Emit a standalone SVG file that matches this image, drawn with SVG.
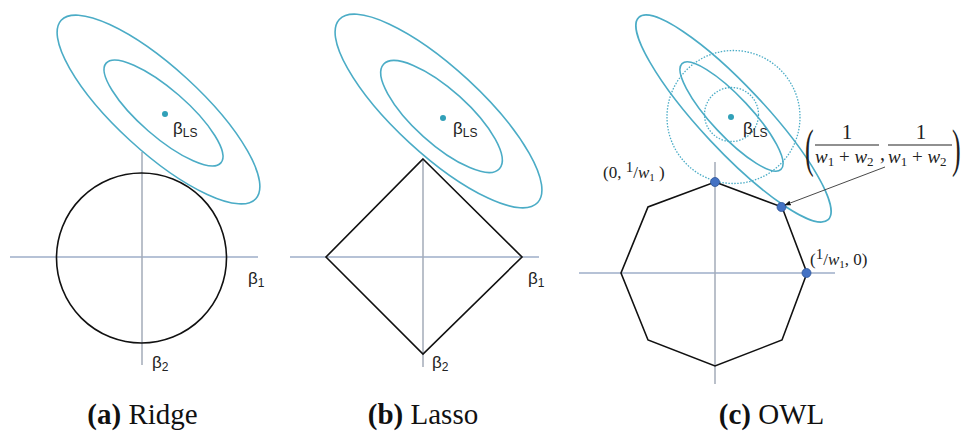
<svg xmlns="http://www.w3.org/2000/svg" width="961" height="432" viewBox="0 0 961 432">
<style>
.ell{fill:none;stroke:#4bacc6;stroke-width:1.6}
.dot{fill:none;stroke:#4bacc6;stroke-width:1.3;stroke-dasharray:1.5 1.5}
.shape{fill:none;stroke:#111;stroke-width:1.6}
.hax{stroke:#6f86ad;stroke-width:1.2}
.vax{stroke:#a3abb9;stroke-width:1.5}
.ls{fill:#31a0b8}
.pt{fill:#4472c4;stroke:#2f5597;stroke-width:0.8}
.sans{font-family:"Liberation Sans",Arial,sans-serif;font-size:17px;fill:#222}
.sub{font-size:12px}
.math{font-family:"Liberation Serif","DejaVu Serif",serif;fill:#222}
.cap{font-family:"Liberation Serif","DejaVu Serif",serif;font-size:29px;fill:#111}
</style>
<defs>
<marker id="ah" viewBox="0 0 10 10" refX="9" refY="5" markerWidth="7" markerHeight="7" orient="auto">
<path d="M0,1 L10,5 L0,9 z" fill="#111"/>
</marker>
</defs>

<g id="panel-a">
<line class="hax" x1="10" y1="257" x2="258" y2="257"/>
<line class="vax" x1="142" y1="152" x2="142" y2="365"/>
<circle class="shape" cx="141.5" cy="258" r="85"/>
<ellipse class="ell" cx="158.5" cy="109.5" rx="132" ry="42" transform="rotate(42.5 158.5 109.5)"/>
<ellipse class="ell" cx="163.5" cy="113" rx="76" ry="23.5" transform="rotate(41 163.5 113)"/>
<circle class="ls" cx="165" cy="114" r="3"/>
<text class="sans" x="173" y="134">β<tspan class="sub" dy="3">LS</tspan></text>
<text class="sans" x="248" y="284">β<tspan class="sub" dy="3">1</tspan></text>
<text class="sans" x="152" y="368">β<tspan class="sub" dy="3">2</tspan></text>
<text class="cap" x="142.5" y="424" text-anchor="middle"><tspan font-weight="bold">(a)</tspan> Ridge</text>
</g>

<g id="panel-b">
<line class="hax" x1="290" y1="257" x2="539" y2="257"/>
<line class="vax" x1="423" y1="159" x2="423" y2="367"/>
<polygon class="shape" points="423,159 522,257 423,354 326,257"/>
<ellipse class="ell" cx="438.5" cy="111" rx="135" ry="43" transform="rotate(42.7 438.5 111)"/>
<ellipse class="ell" cx="441.5" cy="116.5" rx="78" ry="27" transform="rotate(42 441.5 116.5)"/>
<circle class="ls" cx="443" cy="118" r="3"/>
<text class="sans" x="453" y="134">β<tspan class="sub" dy="3">LS</tspan></text>
<text class="sans" x="528" y="284">β<tspan class="sub" dy="3">1</tspan></text>
<text class="sans" x="432" y="368">β<tspan class="sub" dy="3">2</tspan></text>
<text class="cap" x="423" y="424" text-anchor="middle"><tspan font-weight="bold">(b)</tspan> Lasso</text>
</g>

<g id="panel-c">
<line class="hax" x1="579" y1="273" x2="835" y2="273"/>
<line class="vax" x1="715" y1="162" x2="715" y2="384"/>
<polygon class="shape" points="715,182 782,207 807,273 782,340 715,366 648,340 621,273 648,207"/>
<circle class="dot" cx="733.5" cy="117" r="66.5"/>
<circle class="dot" cx="731.5" cy="114.5" r="27"/>
<ellipse class="ell" cx="733.5" cy="118.5" rx="138.6" ry="32" transform="rotate(46.9 733.5 118.5)"/>
<ellipse class="ell" cx="731.5" cy="116.5" rx="72.4" ry="19.6" transform="rotate(46.9 731.5 116.5)"/>
<circle class="ls" cx="731" cy="117" r="3"/>
<text class="sans" x="743" y="134">β<tspan class="sub" dy="3">LS</tspan></text>
<circle class="pt" cx="715" cy="182" r="4.5"/>
<circle class="pt" cx="781.5" cy="207" r="4.5"/>
<circle class="pt" cx="806.5" cy="273" r="4.5"/>
<text class="math" x="603" y="178" font-size="17">(0, <tspan font-size="15" dy="-6">1</tspan><tspan dy="6">/</tspan><tspan font-style="italic">w</tspan><tspan font-size="11" dy="3">1</tspan><tspan dy="-3"> )</tspan></text>
<text class="math" x="810" y="265" font-size="17">(<tspan font-size="15" dy="-6">1</tspan><tspan dy="6">/</tspan><tspan font-style="italic">w</tspan><tspan font-size="11" dy="3">1</tspan><tspan dy="-3">,  0)</tspan></text>
<text class="math" x="805" y="83" font-size="26" transform="scale(1 2)">(</text>
<text class="math" x="847" y="139" font-size="21" text-anchor="middle">1</text>
<line x1="815" y1="145" x2="879" y2="145" stroke="#222" stroke-width="1.2"/>
<text class="math" x="815" y="163" font-size="19"><tspan font-style="italic">w</tspan><tspan font-size="13" dy="3">1</tspan><tspan dy="-3"> + </tspan><tspan font-style="italic">w</tspan><tspan font-size="13" dy="3">2</tspan></text>
<text class="math" x="880" y="160" font-size="20">,</text>
<text class="math" x="921" y="139" font-size="21" text-anchor="middle">1</text>
<line x1="888" y1="145" x2="952" y2="145" stroke="#222" stroke-width="1.2"/>
<text class="math" x="888" y="163" font-size="19"><tspan font-style="italic">w</tspan><tspan font-size="13" dy="3">1</tspan><tspan dy="-3"> + </tspan><tspan font-style="italic">w</tspan><tspan font-size="13" dy="3">2</tspan></text>
<text class="math" x="952" y="83" font-size="26" transform="scale(1 2)">)</text>
<text class="cap" x="771.5" y="424" text-anchor="middle"><tspan font-weight="bold">(c)</tspan> OWL</text>
</g>

<g id="connectors">
<line x1="885" y1="167" x2="785" y2="205" stroke="#333" stroke-width="0.9" marker-end="url(#ah)"/>
</g>
</svg>
